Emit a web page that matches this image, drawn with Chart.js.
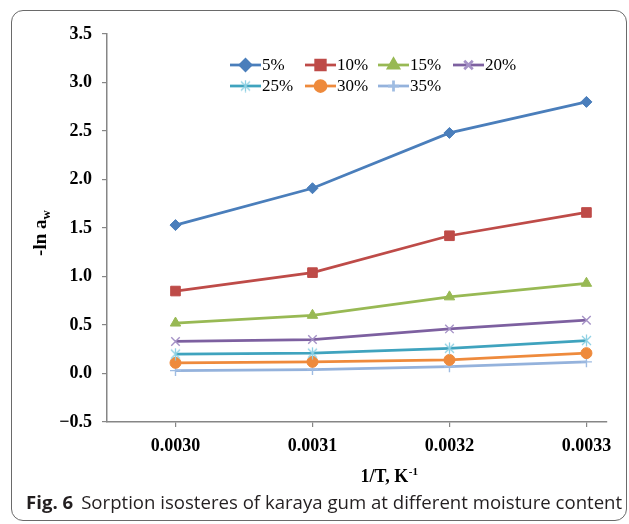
<!DOCTYPE html>
<html><head><meta charset="utf-8">
<script src="https://cdn.jsdelivr.net/npm/chart.js@4/dist/chart.umd.min.js"></script>
<style>
html,body{margin:0;padding:0;background:#fff;}
#wrap{position:relative;width:629px;height:524px;overflow:hidden;background:#fff;}
#frame{position:absolute;left:11px;top:10px;width:616px;height:511px;border:1.5px solid #6a6a6a;border-radius:12px;box-sizing:border-box;}
#c{position:absolute;left:0;top:0;}
#cap{position:absolute;left:26px;top:490px;font-family:"Open Sans";font-size:18.6px;color:#231f20;white-space:nowrap;line-height:24px;}
#cap b{margin-right:8px;}
</style></head>
<body>
<div id="wrap">
<div id="frame"></div>
<canvas id="c" width="629" height="524"></canvas>
<div id="cap"><b>Fig. 6</b>Sorption isosteres of karaya gum at different moisture content</div>
</div>
<script>
// ---- data ----
const xValues = [0.0030, 0.0031, 0.0032, 0.0033];
const seriesLabels = ['5%', '10%', '15%', '20%', '25%', '30%', '35%'];
const s5  = [1.53, 1.91, 2.48, 2.80];
const s10 = [0.85, 1.04, 1.42, 1.66];
const s15 = [0.52, 0.60, 0.79, 0.93];
const s20 = [0.33, 0.35, 0.46, 0.55];
const s25 = [0.20, 0.21, 0.26, 0.34];
const s30 = [0.11, 0.12, 0.14, 0.21];
const s35 = [0.03, 0.04, 0.07, 0.12];
const xTicks = [0.0030, 0.0031, 0.0032, 0.0033];
const xTickLabels = ['0.0030', '0.0031', '0.0032', '0.0033'];
const yTicks = [-0.5, 0, 0.5, 1.0, 1.5, 2.0, 2.5, 3.0, 3.5];
const yTickLabels = ['\u22120.5', '0.0', '0.5', '1.0', '1.5', '2.0', '2.5', '3.0', '3.5'];
const xTitle = '1/T, K';
const xTitleSup = '-1';
const yTitle = '-ln a';
const yTitleSub = 'w';

// asterisk marker (X with vertical stroke)
function asterisk(color){
  const c = document.createElement('canvas'); c.width = 13; c.height = 13;
  const g = c.getContext('2d'); g.strokeStyle = color; g.lineWidth = 1.3;
  g.beginPath();
  g.moveTo(2,2); g.lineTo(11,11); g.moveTo(11,2); g.lineTo(2,11);
  g.moveTo(6.5,0.5); g.lineTo(6.5,12.5);
  g.stroke();
  return c;
}

const seriesValues = [s5, s10, s15, s20, s25, s30, s35];
const lineColors = ['#4A7EBB', '#BE4B48', '#98B954', '#7D60A0', '#3FA3BE', '#EE8A3C', '#94B2DC'];
const markerColors = ['#4A7EBB', '#BE4B48', '#98B954', '#A592C6', '#8DD0E3', '#EE8A3C', '#9FBCE2'];
const styles = ['rectRot', 'rect', 'triangle', 'crossRot', asterisk('#8DD0E3'), 'circle', 'cross'];
const radii = [5.5, 6.8, 6, 6, 6, 5.5, 5.5];

const datasets = seriesValues.map((vals, i) => ({
  label: seriesLabels[i],
  data: vals.map((v, j) => ({x: xValues[j], y: v})),
  borderColor: lineColors[i],
  backgroundColor: markerColors[i],
  borderWidth: 2.75,
  pointStyle: styles[i],
  pointRadius: radii[i],
  pointBackgroundColor: markerColors[i],
  pointBorderColor: markerColors[i],
  pointBorderWidth: (i === 3 || i === 6) ? 1.4 : 1,
  tension: 0,
  fill: false
}));

const legendPlugin = {
  id: 'customLegend',
  afterDatasetsDraw(chart){
    const ctx = chart.ctx, a = chart.chartArea;
    const cols = [123, 198, 271, 346];
    const rows = [31, 52];
    ctx.save();
    chart.data.datasets.forEach((ds, i) => {
      const x0 = a.left + cols[i % 4];
      const y = a.top + rows[Math.floor(i / 4)];
      ctx.strokeStyle = ds.borderColor; ctx.lineWidth = 2.75;
      ctx.beginPath(); ctx.moveTo(x0, y); ctx.lineTo(x0 + 31, y); ctx.stroke();
      ctx.fillStyle = ds.pointBackgroundColor; ctx.strokeStyle = ds.pointBorderColor;
      Chart.helpers.drawPoint(ctx, {pointStyle: ds.pointStyle, radius: ds.pointRadius, borderWidth: ds.pointBorderWidth, rotation: 0}, x0 + 15.5, y);
      ctx.fillStyle = '#000';
      ctx.font = '17px "Liberation Serif"';
      ctx.textBaseline = 'middle'; ctx.textAlign = 'left';
      ctx.fillText(ds.label, x0 + 32, y + 1);
    });
    ctx.restore();
  }
};

const titlePlugin = {
  id: 'axisTitles',
  afterDraw(chart){
    const ctx = chart.ctx;
    ctx.save();
    ctx.fillStyle = '#000';
    // y title
    ctx.translate(46, 233); ctx.rotate(-Math.PI/2);
    ctx.font = 'bold 19px "Liberation Serif"';
    const w1 = ctx.measureText(yTitle).width;
    ctx.font = 'bold 13px "Liberation Serif"';
    const w2 = ctx.measureText(yTitleSub).width;
    let x0 = -(w1 + w2) / 2;
    ctx.textBaseline = 'alphabetic'; ctx.textAlign = 'left';
    ctx.font = 'bold 19px "Liberation Serif"';
    ctx.fillText(yTitle, x0, 0);
    ctx.font = 'bold 13px "Liberation Serif"';
    ctx.fillText(yTitleSub, x0 + w1, 4);
    ctx.restore();
    // x title
    ctx.save();
    ctx.fillStyle = '#000';
    ctx.font = 'bold 18px "Liberation Serif"';
    const t1 = ctx.measureText(xTitle).width;
    ctx.font = 'bold 11px "Liberation Serif"';
    const t2 = ctx.measureText(xTitleSup).width;
    const sx = 389 - (t1 + t2) / 2;
    ctx.textBaseline = 'alphabetic'; ctx.textAlign = 'left';
    ctx.font = 'bold 18px "Liberation Serif"';
    ctx.fillText(xTitle, sx, 482);
    ctx.font = 'bold 11px "Liberation Serif"';
    ctx.fillText(xTitleSup, sx + t1 + 0.5, 475);
    ctx.restore();
  }
};

const tickFont = {family: 'Liberation Serif', size: 18, weight: 'bold'};
new Chart(document.getElementById('c'), {
  type: 'line',
  data: {datasets},
  options: {
    responsive: false,
    animation: false,
    layout: {padding: {top: 34, right: 22, left: 0, bottom: 0}},
    plugins: {legend: {display: false}, tooltip: {enabled: false}},
    scales: {
      x: {
        type: 'linear', min: 0.00295, max: 0.003315,
        afterBuildTicks: s => { s.ticks = xTicks.map(v => ({value: v})); },
        afterFit: s => { s.height = 102; },
        ticks: {callback: (v, i) => xTickLabels[i], font: tickFont, color: '#000', padding: 9, maxRotation: 0, autoSkip: false},
        grid: {display: true, drawOnChartArea: false, drawTicks: true, tickLength: 5, color: '#868686', lineWidth: 1.2},
        border: {display: true, color: '#868686', width: 1.5}
      },
      y: {
        type: 'linear', min: -0.5, max: 3.5,
        afterBuildTicks: s => { s.ticks = yTicks.map(v => ({value: v})); },
        afterFit: s => { s.width = 107; },
        ticks: {callback: (v, i) => yTickLabels[i], font: tickFont, color: '#000', padding: 10, autoSkip: false},
        grid: {display: true, drawOnChartArea: false, drawTicks: true, tickLength: 5, color: '#868686', lineWidth: 1.2},
        border: {display: true, color: '#868686', width: 1.5}
      }
    }
  },
  plugins: [legendPlugin, titlePlugin]
});
</script>
</body></html>
